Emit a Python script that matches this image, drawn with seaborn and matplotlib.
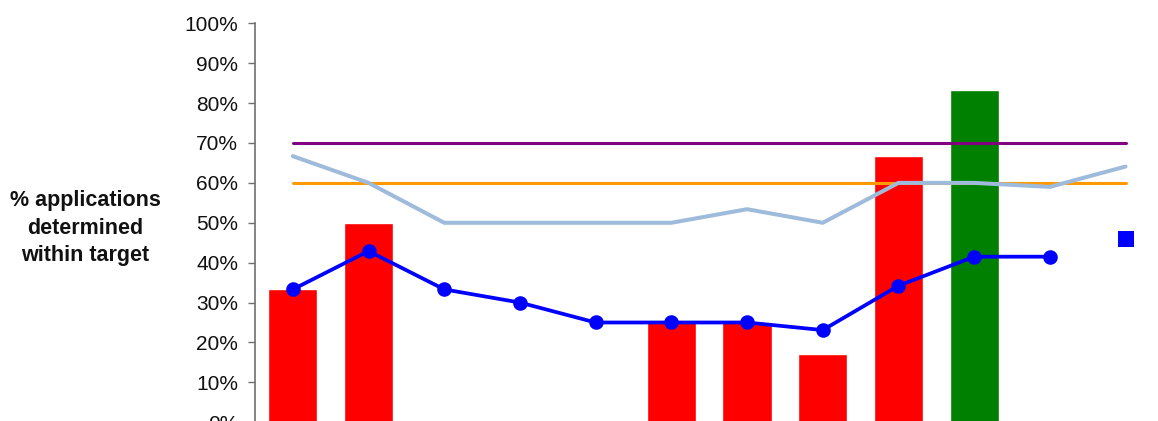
import numpy as np
import pandas as pd
import matplotlib
matplotlib.use("Agg")
import matplotlib.pyplot as plt
from matplotlib.ticker import PercentFormatter, MultipleLocator
import seaborn as sns

# Reporting periods (not labelled on the axis)
periods = [str(p) for p in range(1, 13)]

# Share of applications determined within target, per period
bar_values = [0.333, 0.50, np.nan, np.nan, np.nan, 0.25, 0.25, 0.17, 0.667, 0.833, np.nan, np.nan]
bar_colors = ["#FF0000"] * 9 + ["#008000"] + ["#FF0000"] * 2

# Running average
running_avg = [0.333, 0.429, 0.333, 0.30, 0.25, 0.25, 0.25, 0.231, 0.342, 0.415, 0.415, np.nan]
# Latest overall value
latest_value = 0.46
# Comparison series
comparison = [0.667, 0.60, 0.50, 0.50, 0.50, 0.50, 0.534, 0.50, 0.60, 0.60, 0.59, 0.641]
# Targets
target_upper = 0.70
target_lower = 0.60

sns.set_style("white")
plt.rcParams["font.family"] = ["Liberation Sans", "DejaVu Sans"]

fig = plt.figure(figsize=(11.58, 4.21), dpi=100)
ax = fig.add_axes([255 / 1158, -0.0029, 12 * 75.7 / 1158, 0.9475])

df = pd.DataFrame({"period": periods, "value": bar_values})
sns.barplot(data=df, x="period", y="value", order=periods, hue="period",
            palette=dict(zip(periods, bar_colors)), width=0.65,
            legend=False, saturation=1, ax=ax, zorder=1)

pos = np.arange(len(periods))
sns.lineplot(x=pos, y=[target_upper] * len(pos), color="#800080", linewidth=2.2,
             ax=ax, zorder=2)
sns.lineplot(x=pos, y=[target_lower] * len(pos), color="#FF9900", linewidth=2.2,
             ax=ax, zorder=2)
sns.lineplot(x=pos, y=comparison, color="#9FBBDB", linewidth=2.9, ax=ax, zorder=3,
             sort=False, estimator=None)
valid = ~np.isnan(running_avg)
sns.lineplot(x=pos[valid], y=np.array(running_avg)[valid], color="#0000FF",
             linewidth=2.7, marker="o", markersize=10.5, markeredgewidth=0,
             ax=ax, zorder=4, sort=False, estimator=None)
sns.scatterplot(x=[pos[-1]], y=[latest_value], marker="s", s=135, color="#0000FF",
                linewidth=0, ax=ax, zorder=5)

ax.set_xlim(-0.5, len(periods) - 0.5)
ax.set_ylim(0, 1)
ax.yaxis.set_major_locator(MultipleLocator(0.1))
ax.yaxis.set_major_formatter(PercentFormatter(1.0, decimals=0))
ax.set_xticks([])
ax.set_xlabel("")
ax.set_ylabel("")
for side in ["top", "right", "bottom"]:
    ax.spines[side].set_visible(False)
ax.spines["left"].set_color("#707070")
ax.spines["left"].set_linewidth(1.2)
ax.tick_params(axis="y", left=True, direction="out", length=5, width=1,
               color="#707070", pad=7, labelsize=15, labelcolor="#111111")

fig.text(85 / 1158, 0.4577, "% applications\ndetermined\nwithin target",
         ha="center", va="center", fontsize=15.5, fontweight="bold",
         linespacing=1.4, color="#111111")

fig.savefig("out.png", dpi=100)
